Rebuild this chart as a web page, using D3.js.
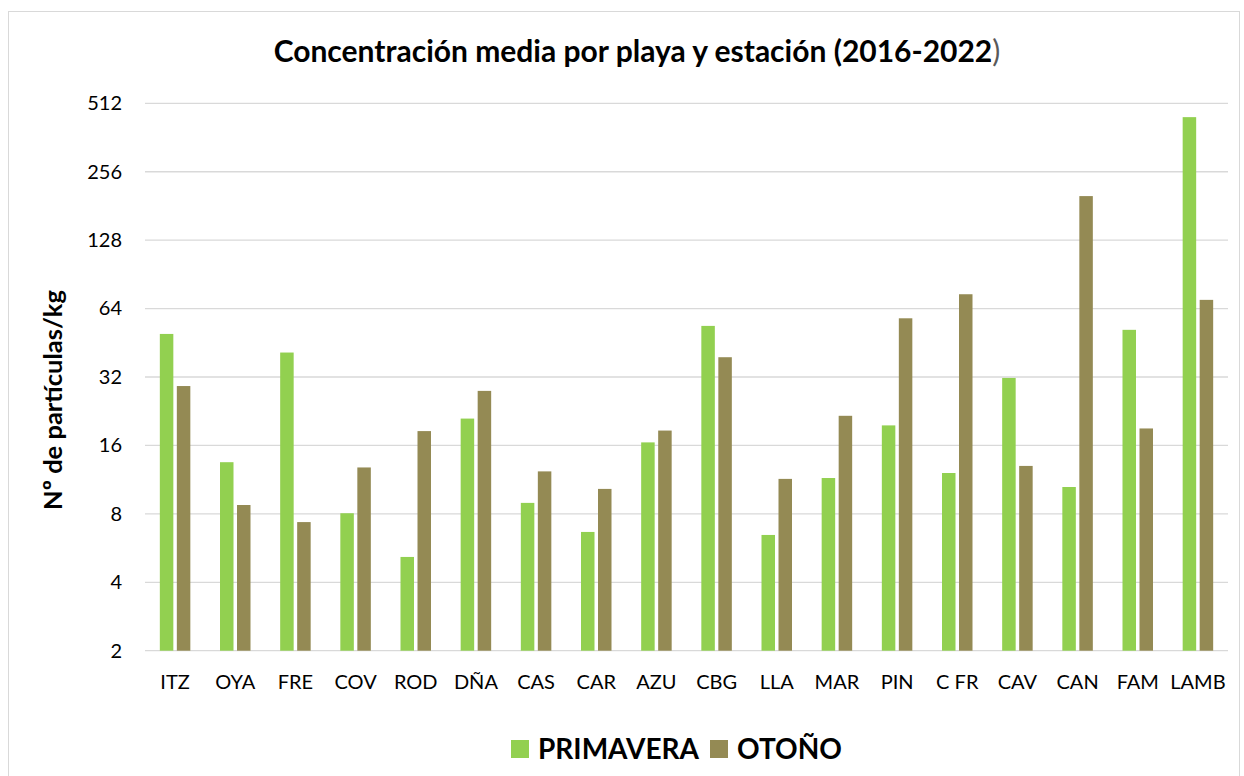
<!DOCTYPE html>
<html>
<head>
<meta charset="utf-8">
<script src="https://cdn.jsdelivr.net/npm/d3@7"></script>
<style>
  body { margin: 0; background: #fff; }
  text { font-family: Lato, "Open Sans", sans-serif; }
</style>
</head>
<body>
<svg width="1244" height="776"></svg>
<script>
const playas = ["ITZ", "OYA", "FRE", "COV", "ROD", "DÑA", "CAS", "CAR", "AZU", "CBG",
                "LLA", "MAR", "PIN", "C FR", "CAV", "CAN", "FAM", "LAMB"];
const primavera = [49.5, 13.5, 41, 8.05, 5.17, 21, 8.94, 6.66, 16.5, 53.7,
                   6.46, 11.5, 19.6, 12.1, 31.7, 10.5, 51.6, 445];
const otono = [29.2, 8.75, 7.36, 12.8, 18.5, 27.8, 12.3, 10.3, 18.6, 39.1,
               11.4, 21.6, 58, 74, 13.0, 200, 19.0, 69.9];
const series = ["PRIMAVERA", "OTOÑO"];
const colores = ["#92D050", "#948A54"];
const yTicks = [2, 4, 8, 16, 32, 64, 128, 256, 512];

(function () {
const svg = d3.select("svg");

// marco del gráfico
svg.append("rect")
    .attr("x", 8.5).attr("y", 11.5)
    .attr("width", 1231).attr("height", 770)
    .attr("fill", "#fff")
    .attr("stroke", "#d9d9d9");

const plotLeft = 145, plotRight = 1228, plotTop = 103.3, plotBottom = 650.7;

const x = d3.scaleBand().domain(playas).range([plotLeft, plotRight]).padding(0);
const y = d3.scaleLog().base(2).domain([2, 512]).range([plotBottom, plotTop]);

// rejilla
svg.append("g")
    .selectAll("line")
    .data(yTicks)
    .enter()
    .append("line")
        .attr("x1", plotLeft).attr("x2", plotRight)
        .attr("y1", d => y(d)).attr("y2", d => y(d))
        .attr("stroke", "#d9d9d9")
        .attr("stroke-width", 1.3);

// eje y
const yAxis = svg.append("g")
    .attr("transform", `translate(${plotLeft - 23},0)`)
    .call(d3.axisLeft(y).tickValues(yTicks).tickFormat(d3.format("d")).tickSize(0).tickPadding(0));
yAxis.select(".domain").remove();
yAxis.selectAll("text")
    .style("font-size", "20px")
    .attr("fill", "#000");

// eje x
const xAxis = svg.append("g")
    .attr("transform", `translate(0,${plotBottom})`)
    .call(d3.axisBottom(x).tickSize(0).tickPadding(24));
xAxis.select(".domain").remove();
xAxis.selectAll("text")
    .style("font-size", "20px")
    .attr("fill", "#000");

// barras
const barW = 13.5, gap = 3.5;
const datos = playas.map((p, i) => ({ playa: p, vals: [primavera[i], otono[i]] }));

const grupos = svg.append("g")
    .selectAll("g")
    .data(datos)
    .enter()
    .append("g")
        .attr("transform", d => `translate(${x(d.playa) + x.bandwidth() / 2},0)`);

grupos.selectAll("rect")
    .data(d => d.vals)
    .enter()
    .append("rect")
        .attr("x", (d, j) => j === 0 ? -barW - gap / 2 : gap / 2)
        .attr("width", barW)
        .attr("y", d => y(d))
        .attr("height", d => plotBottom - y(d))
        .attr("fill", (d, j) => colores[j]);

// título
const titulo = svg.append("text")
    .attr("x", 637).attr("y", 62)
    .attr("text-anchor", "middle")
    .style("font-size", "30px")
    .style("font-weight", "bold");
titulo.append("tspan").text("Concentración media por playa y estación (2016-2022");
titulo.append("tspan").style("font-weight", "normal").attr("fill", "#595959").text(")");

// título eje y
svg.append("text")
    .attr("transform", "translate(62,400) rotate(-90)")
    .attr("text-anchor", "middle")
    .style("font-size", "25.5px")
    .style("font-weight", "bold")
    .text("Nº de partículas/kg");

// leyenda
const leyenda = svg.append("g").attr("transform", "translate(511,740)");
const items = [{ t: series[0], c: colores[0], dx: 0 }, { t: series[1], c: colores[1], dx: 199 }];
const li = leyenda.selectAll("g")
    .data(items)
    .enter()
    .append("g")
        .attr("transform", d => `translate(${d.dx},0)`);
li.append("rect")
    .attr("width", 18).attr("height", 18)
    .attr("fill", d => d.c);
li.append("text")
    .attr("x", 27).attr("y", 19)
    .style("font-size", "28px")
    .style("font-weight", "bold")
    .text(d => d.t);
})();
</script>
</body>
</html>
